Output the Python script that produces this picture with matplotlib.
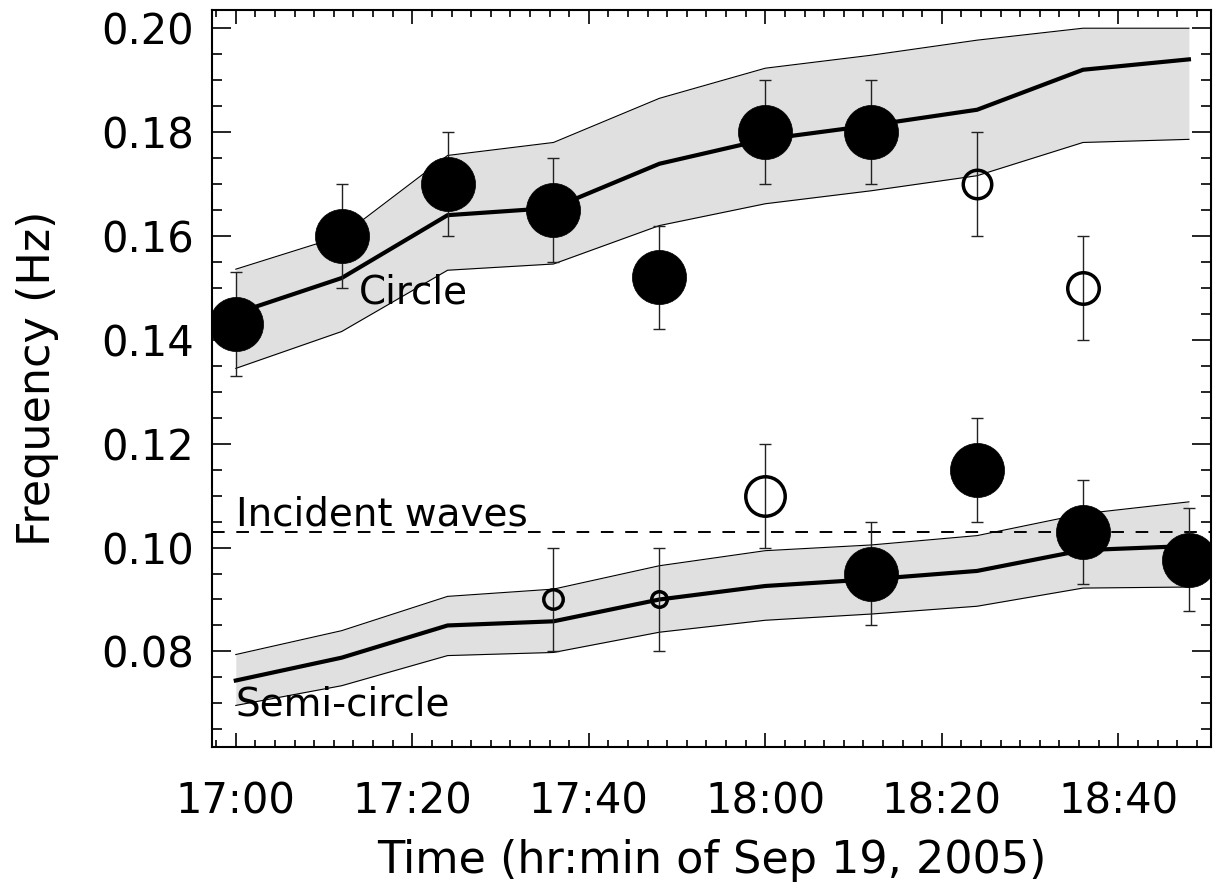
import numpy as np
import matplotlib
matplotlib.use("Agg")
import matplotlib.pyplot as plt
from matplotlib.ticker import MultipleLocator, AutoMinorLocator, FuncFormatter

# model times (hh:mm) and model curves with their bands
model_times = ["17:00", "17:12", "17:24", "17:36", "17:48",
               "18:00", "18:12", "18:24", "18:36", "18:48"]
circle_mid = [0.1451, 0.1519, 0.1640, 0.1654, 0.1739, 0.1786, 0.1813, 0.1843, 0.1920, 0.1940]
circle_hi = [0.1536, 0.1600, 0.1755, 0.1780, 0.1865, 0.1923, 0.1948, 0.1977, 0.2000, 0.2000]
circle_lo = [0.1345, 0.1416, 0.1534, 0.1546, 0.1620, 0.1662, 0.1687, 0.1716, 0.1780, 0.1786]
semi_mid = [0.0744, 0.0788, 0.0850, 0.0858, 0.0900, 0.0926, 0.0939, 0.0955, 0.0995, 0.1003]
semi_hi = [0.0794, 0.0840, 0.0906, 0.0920, 0.0965, 0.0994, 0.1005, 0.1023, 0.1065, 0.1088]
semi_lo = [0.0696, 0.0734, 0.0792, 0.0798, 0.0837, 0.0860, 0.0872, 0.0887, 0.0922, 0.0924]

# observed frequencies, filled symbols
filled_times = ["17:00", "17:12", "17:24", "17:36", "17:48", "18:00",
                "18:12", "18:12", "18:24", "18:36", "18:48"]
filled_freq = [0.143, 0.160, 0.170, 0.165, 0.152, 0.180,
               0.180, 0.095, 0.115, 0.103, 0.0977]
filled_err = [0.01] * len(filled_freq)

# observed frequencies, open symbols (symbol size differs per point)
open_times = ["18:24", "18:36", "17:36", "17:48", "18:00"]
open_freq = [0.170, 0.150, 0.090, 0.090, 0.110]
open_err = [0.01] * len(open_freq)
open_size = [20.5, 22.7, 14.0, 11.2, 28.4]

incident_freq = 0.103


def to_min(t):
    h, m = t.split(":")
    return int(h) * 60 + int(m)


tm = np.array([to_min(t) for t in model_times])
tf = np.array([to_min(t) for t in filled_times])
to = np.array([to_min(t) for t in open_times])

plt.rcParams['font.family'] = 'DejaVu Sans'
fig = plt.figure(figsize=(12.14, 8.88), dpi=100)
ax = fig.add_axes([0.1746, 0.1588, 0.9975 - 0.1746, 0.9887 - 0.1588])

for lo, mid, hi in [(circle_lo, circle_mid, circle_hi), (semi_lo, semi_mid, semi_hi)]:
    ax.fill_between(tm, lo, hi, color='#e0e0e0', lw=0, zorder=1)
    ax.plot(tm, lo, color='k', lw=0.8, zorder=2)
    ax.plot(tm, hi, color='k', lw=0.8, zorder=2)
    ax.plot(tm, mid, color='k', lw=3, zorder=3)

ax.axhline(incident_freq, color='k', lw=1.4, ls=(0, (6.5, 6)), zorder=2)

ax.errorbar(tf, filled_freq, yerr=filled_err, fmt='none', ecolor='#222222',
            elinewidth=1, capsize=4, capthick=1, zorder=4)
ax.errorbar(to, open_freq, yerr=open_err, fmt='none', ecolor='#222222',
            elinewidth=1, capsize=4, capthick=1, zorder=4)
ax.plot(tf, filled_freq, 'o', color='k', ms=39, mew=0.5, zorder=5)
for x, y, s in zip(to, open_freq, open_size):
    ax.plot(x, y, 'o', mfc='none', mec='k', ms=s, mew=2.5, zorder=5)

fs = 30
ax.text(to_min("17:14"), 0.147, "Circle", fontsize=28, va='baseline')
ax.text(to_min("17:00"), 0.1043, "Incident waves", fontsize=28, va='baseline')
ax.text(to_min("17:00"), 0.0676, "Semi-circle", fontsize=28, va='baseline')

ax.set_xlim(1017.3, 1130.5)
ax.set_ylim(0.0616, 0.2035)
ax.xaxis.set_major_locator(MultipleLocator(20))
ax.xaxis.set_minor_locator(AutoMinorLocator(9))
ax.xaxis.set_major_formatter(FuncFormatter(lambda v, p: "%d:%02d" % (v // 60, v % 60)))
ax.yaxis.set_major_locator(MultipleLocator(0.02))
ax.yaxis.set_minor_locator(AutoMinorLocator(4))
ax.yaxis.set_major_formatter(FuncFormatter(lambda v, p: "%.2f" % v))

ax.tick_params(which='both', direction='in', top=True, right=True, width=1.2, labelsize=fs)
ax.tick_params(axis='x', which='major', length=10, pad=24)
ax.tick_params(axis='x', which='minor', length=5)
ax.tick_params(axis='y', which='major', length=14, pad=13)
ax.tick_params(axis='y', which='minor', length=7)
for sp in ax.spines.values():
    sp.set_linewidth(1.5)

ax.set_xlabel("Time (hr:min of Sep 19, 2005)", fontsize=32, labelpad=12)
ax.set_ylabel("Frequency (Hz)", fontsize=32, labelpad=30)

fig.savefig("out.png", dpi=100)
